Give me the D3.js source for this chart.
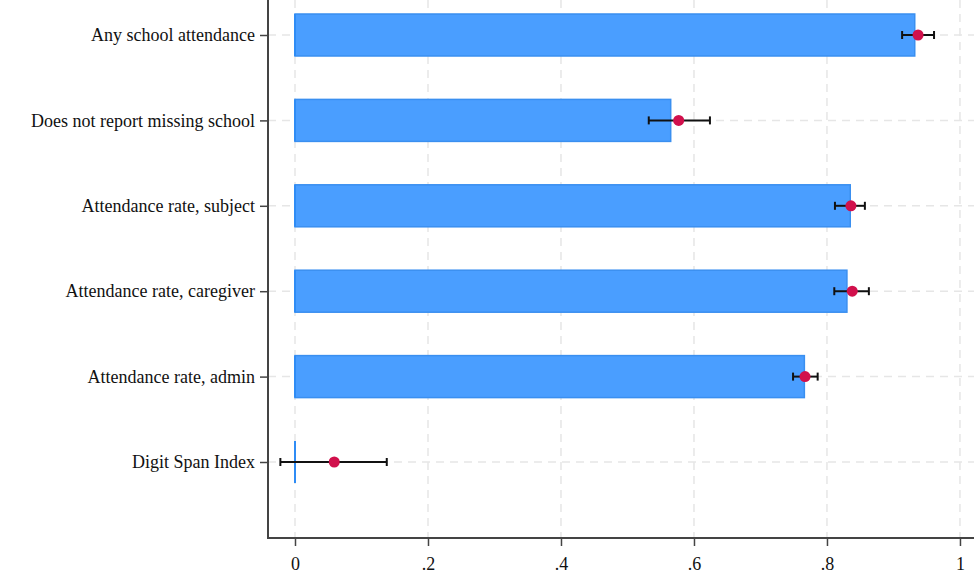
<!DOCTYPE html>
<html>
<head>
<meta charset="utf-8">
<script src="https://cdn.jsdelivr.net/npm/d3@7"></script>
<style>
  body { margin: 0; background: #fff; }
  svg { display: block; }
  .tick text { font-family: "Liberation Serif", "Times New Roman", serif; }
</style>
</head>
<body>
<svg id="chart"></svg>
<script>
const categories = [
  "Any school attendance",
  "Does not report missing school",
  "Attendance rate, subject",
  "Attendance rate, caregiver",
  "Attendance rate, admin",
  "Digit Span Index"
];
const barValues = [0.932, 0.565, 0.835, 0.830, 0.766, 0];
const pointValues = [0.937, 0.577, 0.836, 0.838, 0.767, 0.059];
const ciLow = [0.913, 0.532, 0.812, 0.811, 0.749, -0.022];
const ciHigh = [0.961, 0.624, 0.857, 0.863, 0.786, 0.138];
const xTicks = [0, 0.2, 0.4, 0.6, 0.8, 1];

const width = 974, height = 584;
const margin = { top: 0, right: 0, bottom: 46, left: 268 };
const plotBottom = height - margin.bottom;

const rows = categories.map((c, i) => ({
  cat: c, bar: barValues[i], pt: pointValues[i], lo: ciLow[i], hi: ciHigh[i]
}));

const svg = d3.select("#chart").attr("width", width).attr("height", height);

const x = d3.scaleLinear().domain([-0.0406, 1.0211]).range([margin.left, width]);
const y = d3.scalePoint().domain(categories).range([35, 462]);
const barH = 42;

// grid
svg.append("g").selectAll("line").data(xTicks).join("line")
  .attr("x1", d => x(d)).attr("x2", d => x(d))
  .attr("y1", margin.top).attr("y2", plotBottom)
  .attr("stroke", "#e6e6e6").attr("stroke-width", 1.5).attr("stroke-dasharray", "8,6");
svg.append("g").selectAll("line").data(categories).join("line")
  .attr("x1", margin.left).attr("x2", width)
  .attr("y1", d => y(d)).attr("y2", d => y(d))
  .attr("stroke", "#e6e6e6").attr("stroke-width", 1.5).attr("stroke-dasharray", "8,6");

// bars
svg.append("g").selectAll("rect").data(rows).join("rect")
  .attr("x", d => x(0))
  .attr("y", d => y(d.cat) - barH / 2)
  .attr("width", d => x(d.bar) - x(0))
  .attr("height", barH)
  .attr("fill", "#4a9eff")
  .attr("stroke", "#3a8ff0")
  .attr("stroke-width", 1.5);
// bar base edge (visible for zero-width bars)
svg.append("g").selectAll("line").data(rows).join("line")
  .attr("x1", x(0)).attr("x2", x(0))
  .attr("y1", d => y(d.cat) - barH / 2).attr("y2", d => y(d.cat) + barH / 2)
  .attr("stroke", "#2f8cf5").attr("stroke-width", 2);

// error bars
const eb = svg.append("g").attr("stroke", "#111").attr("stroke-width", 2);
eb.selectAll("line.ci").data(rows).join("line").attr("class", "ci")
  .attr("x1", d => x(d.lo)).attr("x2", d => x(d.hi))
  .attr("y1", d => y(d.cat)).attr("y2", d => y(d.cat));
eb.selectAll("line.lo").data(rows).join("line").attr("class", "lo")
  .attr("x1", d => x(d.lo)).attr("x2", d => x(d.lo))
  .attr("y1", d => y(d.cat) - 4).attr("y2", d => y(d.cat) + 4);
eb.selectAll("line.hi").data(rows).join("line").attr("class", "hi")
  .attr("x1", d => x(d.hi)).attr("x2", d => x(d.hi))
  .attr("y1", d => y(d.cat) - 4).attr("y2", d => y(d.cat) + 4);

// points
svg.append("g").selectAll("circle").data(rows).join("circle")
  .attr("cx", d => x(d.pt)).attr("cy", d => y(d.cat))
  .attr("r", 5.5).attr("fill", "#d1104c");

// axes
const xAxis = svg.append("g")
  .attr("transform", `translate(0,${plotBottom})`)
  .call(d3.axisBottom(x).tickValues(xTicks).tickSize(8).tickSizeOuter(0).tickPadding(11)
    .tickFormat(d => d === 0 ? "0" : d === 1 ? "1" : d3.format(".1f")(d).replace(/^0/, "")));
xAxis.select(".domain").attr("d", `M${margin.left - 1},0H${width}`)
  .attr("stroke", "#444").attr("stroke-width", 2);
xAxis.selectAll(".tick line").attr("stroke", "#444").attr("stroke-width", 1.5);
xAxis.selectAll(".tick text").attr("font-size", 18).attr("fill", "#111");

const yAxis = svg.append("g")
  .attr("transform", `translate(${margin.left},0)`)
  .call(d3.axisLeft(y).tickSize(8).tickSizeOuter(0).tickPadding(5));
yAxis.select(".domain").attr("d", `M0,${margin.top}V${plotBottom}`)
  .attr("stroke", "#444").attr("stroke-width", 2);
yAxis.selectAll(".tick line").attr("stroke", "#444").attr("stroke-width", 1.5);
yAxis.selectAll(".tick text").attr("font-size", 18).attr("fill", "#111");
</script>
</body>
</html>
